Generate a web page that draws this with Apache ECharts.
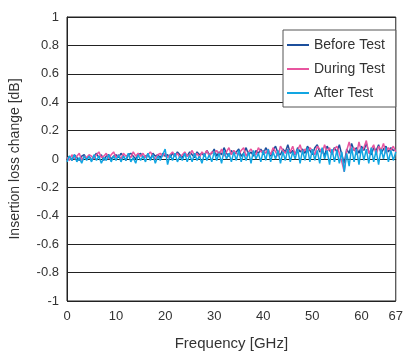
<!DOCTYPE html>
<html>
<head>
<meta charset="utf-8">
<script src="https://cdn.jsdelivr.net/npm/echarts@6/dist/echarts.min.js"></script>
<style>
  html, body { margin: 0; padding: 0; background: #fff; }
  #chart { width: 406px; height: 359px; }
</style>
</head>
<body>
<div id="chart"></div>
<script>
// frequency sampling: 0 .. 67 GHz, 0.5 GHz step
const freqStep = 0.5
const xTicks = [0, 10, 20, 30, 40, 50, 60, 67]
const seriesNames = ["Before Test", "During Test", "After Test"]

const beforeTest = [
  0.00, 0.02, -0.01, 0.03, 0.01, -0.01, 0.02, 0.03, 0.00, 0.02,
  -0.01, 0.02, 0.04, 0.01, 0.03, -0.01, 0.02, 0.03, 0.00, 0.02,
  0.03, 0.01, 0.04, 0.02, -0.01, 0.03, 0.04, 0.02, 0.00, 0.03,
  0.04, 0.01, 0.02, 0.03, 0.00, 0.04, 0.02, 0.03, 0.01, 0.04,
  0.02, 0.03, 0.01, 0.04, 0.02, 0.05, 0.03, 0.01, 0.04, 0.02,
  0.05, 0.03, 0.01, 0.05, 0.03, 0.04, 0.02, 0.06, 0.03, 0.04,
  0.07, 0.02, 0.05, 0.03, 0.08, 0.04, 0.02, 0.06, 0.03, 0.05,
  0.07, 0.02, 0.04, 0.08, 0.03, 0.05, 0.02, 0.06, 0.04, 0.07,
  0.03, 0.08, 0.05, 0.02, 0.06, 0.09, 0.04, 0.03, 0.07, 0.05,
  0.10, 0.04, 0.06, 0.03, 0.08, 0.05, 0.07, 0.04, 0.09, 0.06,
  0.03, 0.08, 0.10, 0.05, 0.07, 0.02, 0.09, 0.06, 0.04, 0.08,
  0.05, 0.10, 0.03, -0.03, 0.07, 0.04, 0.11, 0.06, 0.08, 0.04,
  0.09, 0.06, 0.11, 0.05, 0.03, 0.08, 0.06, 0.10, 0.04, 0.07,
  0.09, 0.05, 0.08, 0.06, 0.07
]

const duringTest = [
  0.01, -0.01, 0.03, 0.00, 0.02, 0.04, -0.01, 0.02, 0.01, 0.03,
  0.02, 0.00, 0.03, 0.05, 0.01, 0.02, 0.04, 0.00, 0.03, 0.05,
  0.01, 0.03, 0.00, 0.04, 0.02, 0.03, 0.01, 0.05, 0.02, 0.04,
  0.02, 0.04, 0.01, 0.03, 0.05, 0.02, 0.00, 0.03, 0.04, 0.02,
  0.04, 0.01, 0.03, 0.05, 0.02, 0.04, 0.01, 0.03, 0.05, 0.02,
  0.03, 0.06, 0.02, 0.04, 0.01, 0.05, 0.03, 0.06, 0.02, 0.05,
  0.04, 0.06, 0.03, 0.07, 0.02, 0.05, 0.08, 0.03, 0.06, 0.04,
  0.03, 0.06, 0.08, 0.02, 0.05, 0.07, 0.04, 0.03, 0.08, 0.05,
  0.06, 0.04, 0.07, 0.03, 0.08, 0.05, 0.02, 0.09, 0.06, 0.04,
  0.07, 0.05, 0.09, 0.03, 0.06, 0.10, 0.04, 0.07, 0.05, 0.08,
  0.06, 0.03, 0.09, 0.07, 0.04, 0.10, 0.05, 0.08, 0.03, 0.07,
  0.09, 0.04, -0.02, -0.09, 0.06, 0.12, 0.05, 0.08, 0.03, 0.12,
  0.05, 0.08, 0.13, 0.04, 0.07, 0.10, 0.03, 0.09, 0.06, 0.11,
  0.04, 0.08, 0.06, 0.09, 0.05
]

const afterTest = [
  -0.02, 0.02, -0.01, 0.03, -0.02, 0.01, -0.03, 0.02, -0.01, 0.02,
  -0.02, 0.03, -0.01, 0.02, -0.03, 0.01, -0.01, 0.03, -0.02, 0.02,
  -0.01, 0.03, -0.02, 0.02, -0.01, 0.04, -0.02, 0.01, -0.03, 0.03,
  -0.01, 0.02, -0.02, 0.04, -0.01, 0.03, -0.03, 0.02, -0.01, 0.03,
  0.07, -0.04, 0.03, -0.01, 0.04, -0.02, 0.02, -0.01, 0.04, -0.02,
  0.03, -0.02, 0.04, -0.01, 0.02, -0.03, 0.04, -0.01, 0.03, -0.02,
  0.05, -0.01, 0.04, -0.03, 0.06, 0.00, 0.04, -0.02, 0.05, -0.01,
  0.06, -0.02, 0.04, -0.01, 0.05, -0.03, 0.06, 0.00, 0.04, -0.02,
  0.06, -0.01, 0.07, -0.02, 0.05, 0.00, 0.06, -0.03, 0.05, -0.01,
  0.07, -0.02, 0.05, 0.00, 0.07, -0.03, 0.06, -0.01, 0.08, -0.02,
  0.07, -0.01, 0.06, -0.03, 0.08, 0.00, 0.06, -0.04, 0.07, -0.02,
  0.06, -0.03, 0.05, -0.09, 0.04, -0.05, 0.08, -0.02, 0.07, -0.04,
  0.08, -0.01, 0.07, -0.03, 0.08, -0.02, 0.06, -0.04, 0.07, 0.00,
  0.08, -0.02, 0.06, -0.01, 0.05
]

const colors = ["#1c4f9c", "#e8559f", "#12a6e2"]
const font = "'Liberation Sans', Arial, sans-serif"

const toPairs = (vals) => vals.map((v, i) => [i * freqStep, v])

const chart = echarts.init(document.getElementById("chart"))

chart.setOption({
  animation: false,
  color: colors,
  textStyle: { fontFamily: font },
  grid: { left: 66, right: 6, top: 17, bottom: 58, show: true, borderColor: "#222", borderWidth: 1 },
  legend: {
    data: seriesNames,
    orient: "vertical",
    left: 283,
    top: 30,
    padding: [8, 11, 7, 4],
    itemGap: 10,
    itemWidth: 22,
    itemHeight: 2,
    icon: "rect",
    backgroundColor: "#fff",
    borderColor: "#555",
    borderWidth: 1,
    textStyle: { fontSize: 14, color: "#333", fontFamily: font },
  },
  xAxis: {
    type: "value",
    min: 0,
    max: 67,
    name: "Frequency [GHz]",
    nameLocation: "middle",
    nameGap: 35,
    nameTextStyle: { fontSize: 15, color: "#333" },
    axisLine: { lineStyle: { color: "#222" } },
    axisTick: { show: false },
    splitLine: { show: false },
    axisLabel: { customValues: xTicks, fontSize: 13, color: "#333", margin: 9 },
  },
  yAxis: {
    type: "value",
    min: -1,
    max: 1,
    interval: 0.2,
    name: "Insertion loss change [dB]",
    nameLocation: "middle",
    nameGap: 45,
    nameTextStyle: { fontSize: 14, color: "#333" },
    axisLine: { show: true, lineStyle: { color: "#222" } },
    axisTick: { show: false },
    splitLine: { lineStyle: { color: "#222", width: 1 } },
    axisLabel: {
      fontSize: 13,
      color: "#333",
      margin: 8,
      formatter: (v) => String(Math.round(v * 10) / 10),
    },
  },
  series: [
    { name: seriesNames[0], type: "line", data: toPairs(beforeTest), showSymbol: false, lineStyle: { width: 1.5 } },
    { name: seriesNames[1], type: "line", data: toPairs(duringTest), showSymbol: false, lineStyle: { width: 1.5 } },
    { name: seriesNames[2], type: "line", data: toPairs(afterTest), showSymbol: false, lineStyle: { width: 1.5 } },
  ],
})
</script>
</body>
</html>
